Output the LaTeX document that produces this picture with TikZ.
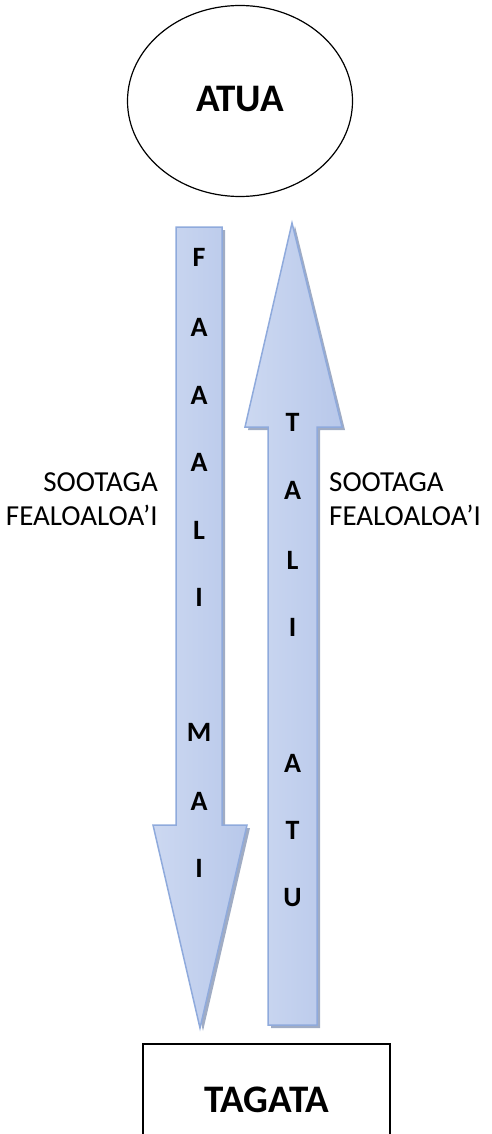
\documentclass[tikz,border=0pt]{standalone}
\usepackage{fontspec}
\setmainfont{Carlito}
\usetikzlibrary{shapes.geometric}
\definecolor{arrowedge}{RGB}{143,170,220}
\definecolor{arrowlight}{RGB}{234,239,250}
\definecolor{arrowleft}{RGB}{204,216,241}
\definecolor{arrowdark}{RGB}{184,200,234}
\definecolor{arrowshade}{RGB}{128,144,176}

\begin{document}
\begin{tikzpicture}[x=1pt,y=-1pt,
    arrowbody/.style={draw=arrowedge, line width=1.5pt, line join=miter,
      left color=arrowleft, middle color=arrowlight, right color=arrowdark},
    arrowshadow/.style={fill=arrowshade, fill opacity=0.75},
    letter/.style={font=\fontsize{28}{33}\selectfont\bfseries, inner sep=0pt},
    sidelabel/.style={font=\fontsize{29}{34}\selectfont, inner sep=0pt},
    title/.style={font=\fontsize{39}{46}\selectfont\bfseries}]
  \path[use as bounding box, clip] (0,0) rectangle (491,1134);

  % God and people
  \node[draw, ellipse, line width=1.2pt, minimum width=225pt, minimum height=191pt,
    inner sep=0pt, title] (atua) at (240,101) {\raisebox{5pt}{ATUA}};
  \node[draw, line width=1.2pt, minimum width=247pt, minimum height=112pt,
    inner sep=0pt, title] (tagata) at (266.5,1100) {TAGATA};

  % down arrow
  \fill[arrowshadow, shift={(3,3)}] (176,227) -- (222,227) -- (222,825) -- (247,825)
    -- (200,1028) -- (153,825) -- (176,825) -- cycle;
  \path[arrowbody] (176,227) -- (222,227) -- (222,825) -- (247,825)
    -- (200,1028) -- (153,825) -- (176,825) -- cycle;

  % up arrow
  \fill[arrowshadow, shift={(3,3)}] (292,223) -- (342,427) -- (317,427) -- (317,1025)
    -- (268,1025) -- (268,427) -- (245,427) -- cycle;
  \path[arrowbody] (292,223) -- (342,427) -- (317,427) -- (317,1025)
    -- (268,1025) -- (268,427) -- (245,427) -- cycle;

  % letters
  \foreach \ch/\y [count=\i] in {F/257, A/327, A/395, A/462, L/530, I/597, M/732, A/801, I/868}
    \node[letter] (faaali\i) at (199,\y) {\ch};
  \foreach \ch/\y [count=\i] in {T/422, A/490, L/560, I/627, A/763, T/830, U/898}
    \node[letter] (taliatu\i) at (292.5,\y) {\ch};

  % side labels
  \node[sidelabel, align=right, anchor=east] (leftlabel) at (158,499) {SOOTAGA\\FEALOALOA’I};
  \node[sidelabel, align=left, anchor=west] (rightlabel) at (329,499) {SOOTAGA\\FEALOALOA’I};
\end{tikzpicture}
\end{document}
